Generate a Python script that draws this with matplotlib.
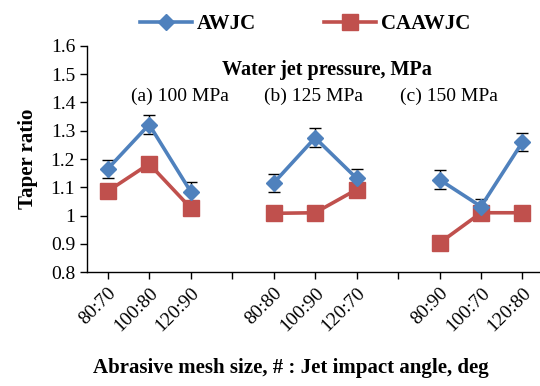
import numpy as np
import matplotlib.pyplot as plt

plt.rcParams['font.family'] = ['Liberation Serif', 'DejaVu Serif']

# data
groups = ['(a) 100 MPa', '(b) 125 MPa', '(c) 150 MPa']
labels = [['80:70', '100:80', '120:90'],
          ['80:80', '100:90', '120:70'],
          ['80:90', '100:70', '120:80']]
awjc = [[1.165, 1.322, 1.085],
        [1.115, 1.275, 1.132],
        [1.127, 1.032, 1.260]]
awjc_err = [[0.032, 0.032, 0.033],
            [0.032, 0.033, 0.032],
            [0.033, 0.027, 0.033]]
caawjc = [[1.086, 1.183, 1.027],
          [1.008, 1.010, 1.092],
          [0.903, 1.010, 1.010]]

blue = '#4F81BD'
red = '#C0504D'

fig = plt.figure(figsize=(5.4, 3.86), dpi=100)
ax = fig.add_axes([0.161, 0.295, 0.845, 0.586])

ticks = []
ticklabels = []
for g in range(3):
    x = np.arange(3) + 1 + g * 4
    ax.errorbar(x, awjc[g], yerr=awjc_err[g], fmt='none', ecolor='black',
                elinewidth=1, capsize=4, capthick=1, zorder=1)
    l1, = ax.plot(x, awjc[g], color=blue, lw=2.6, marker='D', ms=8.5,
                  zorder=3)
    l2, = ax.plot(x, caawjc[g], color=red, lw=2.6, marker='s', ms=12,
                  zorder=2)
    ticks += list(x)
    ticklabels += labels[g]
    if g < 2:
        ticks.append(x[-1] + 1)
        ticklabels.append('')

ax.set_xlim(0.5, 11.5)
ax.set_ylim(0.8, 1.6)
ax.set_yticks(np.arange(0.8, 1.61, 0.1))
ax.set_yticklabels(['0.8', '0.9', '1', '1.1', '1.2', '1.3', '1.4', '1.5', '1.6'])
ax.set_xticks(ticks)
ax.set_xticklabels(ticklabels, rotation=45, ha='right', rotation_mode='anchor')
ax.tick_params(labelsize=14, direction='out', length=5, width=1, colors='black')
ax.tick_params(axis='x', pad=4)
for s in ['top', 'right']:
    ax.spines[s].set_visible(False)
for s in ['left', 'bottom']:
    ax.spines[s].set_linewidth(1)

ax.set_ylabel('Taper ratio', fontsize=15, fontweight='bold')
ax.yaxis.set_label_coords(-0.108, 0.5)
fig.text(0.538, 0.046, 'Abrasive mesh size, # : Jet impact angle, deg',
         ha='center', va='center', fontsize=15, fontweight='bold')

ax.text(6.28, 1.515, 'Water jet pressure, MPa', ha='center', va='center',
        fontsize=14.5, fontweight='bold')
for g, name in enumerate(groups):
    ax.text([2.75, 5.97, 9.23][g], 1.423, name, ha='center', va='center',
            fontsize=14)

fig.legend([l1, l2], ['AWJC', 'CAAWJC'], loc='center', ncol=2,
           bbox_to_anchor=(0.565, 0.938), frameon=False, handlelength=2.5,
           columnspacing=3.3, handletextpad=0.2,
           prop={'weight': 'bold', 'size': 15})

fig.savefig('out.png', dpi=100)
